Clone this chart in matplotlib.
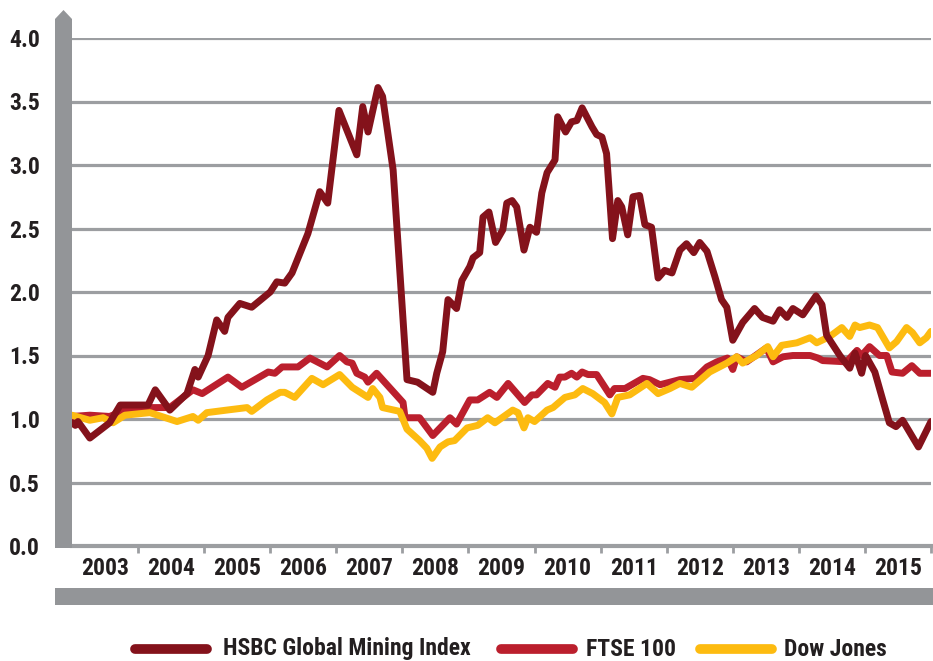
import matplotlib
matplotlib.use("Agg")
import matplotlib.pyplot as plt
from matplotlib import font_manager as fm
from matplotlib.patches import Polygon, Rectangle
from matplotlib.lines import Line2D
import numpy as np

# pick a condensed bold face if one is installed, else Roboto
names = {f.name for f in fm.fontManager.ttflist}
cond = [f for f in fm.fontManager.ttflist if f.stretch in ("condensed", "semi-condensed")]
stretch = "normal"
if "Liberation Sans Narrow" in names:
    fam, fsize = "Liberation Sans Narrow", 17
elif "Roboto Condensed" in names:
    fam, fsize = "Roboto Condensed", 17
elif any(f.name == "DejaVu Sans" for f in cond):
    fam, fsize, stretch = "DejaVu Sans", 15, "condensed"
else:
    fam, fsize = "Roboto", 14.5
plt.rcParams["font.family"] = [fam, "DejaVu Sans"]
plt.rcParams["font.weight"] = "bold"
plt.rcParams["font.stretch"] = stretch

# --- data (decimal year, index value) ---
hsbc_t = [2003.00, 2003.05, 2003.09, 2003.27, 2003.57, 2003.73, 2004.15, 2004.26, 2004.48, 2004.74,
          2004.86, 2004.91, 2005.06, 2005.19, 2005.31, 2005.36, 2005.54, 2005.72, 2006.00, 2006.10,
          2006.22, 2006.33, 2006.57, 2006.75, 2006.87, 2007.04, 2007.31, 2007.40, 2007.48, 2007.63,
          2007.70, 2007.86, 2008.07, 2008.23, 2008.46, 2008.52, 2008.61, 2008.69, 2008.82, 2008.90,
          2009.02, 2009.07, 2009.17, 2009.22, 2009.31, 2009.41, 2009.52, 2009.58, 2009.66, 2009.73,
          2009.84, 2009.93, 2010.03, 2010.11, 2010.19, 2010.31, 2010.35, 2010.47, 2010.56, 2010.64,
          2010.72, 2010.87, 2010.94, 2011.02, 2011.09, 2011.18, 2011.26, 2011.32, 2011.41, 2011.49,
          2011.59, 2011.67, 2011.77, 2011.87, 2011.97, 2012.08, 2012.20, 2012.30, 2012.41, 2012.50,
          2012.61, 2012.73, 2012.83, 2012.91, 2013.00, 2013.15, 2013.33, 2013.45, 2013.61, 2013.71,
          2013.82, 2013.91, 2014.06, 2014.26, 2014.35, 2014.42, 2014.62, 2014.77, 2014.85, 2014.95,
          2015.01, 2015.15, 2015.27, 2015.37, 2015.47, 2015.57, 2015.81, 2016.00]
hsbc_v = [0.97, 0.95, 0.98, 0.85, 0.97, 1.11, 1.11, 1.23, 1.07, 1.20,
          1.39, 1.33, 1.50, 1.78, 1.69, 1.80, 1.91, 1.88, 2.00, 2.08,
          2.07, 2.15, 2.46, 2.79, 2.70, 3.43, 3.08, 3.46, 3.26, 3.61,
          3.54, 2.96, 1.31, 1.29, 1.21, 1.36, 1.53, 1.94, 1.87, 2.09,
          2.20, 2.27, 2.31, 2.59, 2.63, 2.39, 2.49, 2.70, 2.72, 2.67,
          2.33, 2.51, 2.47, 2.78, 2.94, 3.04, 3.38, 3.26, 3.34, 3.35,
          3.45, 3.30, 3.24, 3.22, 3.09, 2.42, 2.72, 2.67, 2.45, 2.75,
          2.76, 2.53, 2.51, 2.11, 2.17, 2.15, 2.33, 2.38, 2.31, 2.39,
          2.32, 2.12, 1.94, 1.88, 1.62, 1.76, 1.87, 1.80, 1.77, 1.86,
          1.80, 1.87, 1.82, 1.97, 1.90, 1.66, 1.50, 1.40, 1.52, 1.36,
          1.50, 1.37, 1.15, 0.97, 0.94, 0.99, 0.78, 0.98]

ftse_t = [2003.00, 2003.27, 2003.57, 2003.76, 2004.18, 2004.48, 2004.83, 2004.97, 2005.36, 2005.57,
          2005.97, 2006.07, 2006.18, 2006.42, 2006.60, 2006.86, 2007.05, 2007.16, 2007.24, 2007.31,
          2007.43, 2007.48, 2007.61, 2008.01, 2008.04, 2008.26, 2008.46, 2008.72, 2008.82, 2009.02,
          2009.14, 2009.32, 2009.43, 2009.60, 2009.85, 2009.96, 2010.03, 2010.20, 2010.31, 2010.38,
          2010.46, 2010.56, 2010.64, 2010.72, 2010.81, 2010.94, 2011.14, 2011.21, 2011.37, 2011.64,
          2011.74, 2011.90, 2012.20, 2012.43, 2012.61, 2012.76, 2012.92, 2013.00, 2013.06, 2013.21,
          2013.51, 2013.61, 2013.76, 2013.91, 2014.17, 2014.29, 2014.36, 2014.72, 2014.88, 2014.95,
          2015.07, 2015.22, 2015.33, 2015.41, 2015.57, 2015.71, 2015.83, 2016.00]
ftse_v = [1.02, 1.03, 1.02, 1.06, 1.09, 1.09, 1.23, 1.20, 1.33, 1.25,
          1.37, 1.36, 1.41, 1.41, 1.48, 1.41, 1.50, 1.45, 1.44, 1.36,
          1.33, 1.29, 1.36, 1.13, 1.01, 1.01, 0.87, 1.01, 0.96, 1.15,
          1.15, 1.21, 1.17, 1.28, 1.13, 1.19, 1.19, 1.28, 1.25, 1.33,
          1.33, 1.36, 1.33, 1.37, 1.35, 1.35, 1.19, 1.24, 1.24, 1.32,
          1.31, 1.27, 1.31, 1.32, 1.41, 1.45, 1.48, 1.39, 1.49, 1.45,
          1.56, 1.45, 1.49, 1.50, 1.50, 1.48, 1.46, 1.45, 1.54, 1.50,
          1.57, 1.50, 1.50, 1.37, 1.36, 1.42, 1.36, 1.36]

dow_t = [2003.00, 2003.27, 2003.47, 2003.62, 2003.80, 2004.18, 2004.59, 2004.83, 2004.91, 2005.04,
         2005.34, 2005.65, 2005.72, 2005.95, 2006.15, 2006.22, 2006.37, 2006.63, 2006.80, 2007.05,
         2007.24, 2007.36, 2007.48, 2007.55, 2007.66, 2007.70, 2007.96, 2008.07, 2008.26, 2008.37,
         2008.45, 2008.57, 2008.69, 2008.79, 2008.98, 2009.14, 2009.29, 2009.40, 2009.67, 2009.75,
         2009.84, 2009.90, 2010.00, 2010.19, 2010.28, 2010.46, 2010.61, 2010.73, 2010.88, 2011.06,
         2011.17, 2011.26, 2011.44, 2011.70, 2011.87, 2012.05, 2012.20, 2012.38, 2012.65, 2012.91,
         2013.06, 2013.15, 2013.36, 2013.53, 2013.61, 2013.74, 2013.97, 2014.17, 2014.27, 2014.47,
         2014.65, 2014.77, 2014.85, 2014.92, 2015.07, 2015.19, 2015.37, 2015.48, 2015.63, 2015.72,
         2015.83, 2015.93, 2016.00]
dow_v = [1.03, 0.99, 1.01, 0.97, 1.03, 1.05, 0.98, 1.02, 0.99, 1.05,
         1.07, 1.09, 1.06, 1.15, 1.21, 1.21, 1.17, 1.32, 1.27, 1.35,
         1.25, 1.21, 1.17, 1.24, 1.17, 1.09, 1.06, 0.92, 0.83, 0.77,
         0.69, 0.78, 0.82, 0.83, 0.93, 0.95, 1.01, 0.97, 1.07, 1.05,
         0.93, 1.01, 0.98, 1.07, 1.09, 1.17, 1.19, 1.24, 1.20, 1.13,
         1.04, 1.17, 1.19, 1.28, 1.20, 1.24, 1.28, 1.25, 1.37, 1.44,
         1.49, 1.44, 1.50, 1.57, 1.49, 1.58, 1.60, 1.64, 1.60, 1.65,
         1.72, 1.65, 1.74, 1.72, 1.74, 1.72, 1.56, 1.61, 1.72, 1.68,
         1.60, 1.64, 1.69]

years = list(range(2003, 2016))
yticks = [0.0, 0.5, 1.0, 1.5, 2.0, 2.5, 3.0, 3.5, 4.0]

labels = ["HSBC Global Mining Index", "FTSE 100", "Dow Jones"]
colors = ["#84121b", "#bb1f2d", "#fdbb10"]
gray = "#939598"
grid_gray = "#9c9ea1"
txt = "#231f20"

W, H = 933, 661
fig = plt.figure(figsize=(W / 100, H / 100), dpi=100)


def fx(x):
    return x / W


def fy(y):
    return 1 - y / H


ax = fig.add_axes([fx(72), fy(546), fx(931) - fx(72), fy(38) - fy(546)])
ax.set_xlim(2003, 2016)
ax.set_ylim(0, 4.0)

ax.set_yticks(yticks)
ax.set_yticklabels([f"{v:.1f}" for v in yticks], fontsize=fsize, fontweight="bold", color=txt)
ax.tick_params(axis="y", length=0, pad=23)
for v in yticks[1:]:
    ax.axhline(v, color=grid_gray, lw=2.3, zorder=1)

ax.set_xticks(np.arange(2004, 2017), minor=False)
ax.set_xticklabels([])
ax.set_xticks([y + 0.5 for y in years], minor=True)
ax.set_xticklabels([str(y) for y in years], minor=True, fontsize=fsize, fontweight="bold", color=txt)
ax.tick_params(axis="x", which="major", length=5, width=2, color=grid_gray, direction="out")
ax.tick_params(axis="x", which="minor", length=0, pad=8)

for s in ["top", "right", "left"]:
    ax.spines[s].set_visible(False)
ax.spines["bottom"].set_color(grid_gray)
ax.spines["bottom"].set_linewidth(3)

ax.plot(ftse_t, ftse_v, color=colors[1], lw=5, solid_capstyle="round", solid_joinstyle="round", zorder=3)
ax.plot(dow_t, dow_v, color=colors[2], lw=5, solid_capstyle="round", solid_joinstyle="round", zorder=4)
ax.plot(hsbc_t, hsbc_v, color=colors[0], lw=5, solid_capstyle="round", solid_joinstyle="round", zorder=5)

# left axis bar with arrow
bar = Polygon([(fx(55), fy(548)), (fx(55), fy(19)), (fx(63.5), fy(10)),
               (fx(72), fy(19)), (fx(72), fy(548))],
              closed=True, transform=fig.transFigure, color=gray, lw=0)
fig.patches.append(bar)
# bottom bar
fig.patches.append(Rectangle((fx(55), fy(605)), fx(933) - fx(55), fy(588) - fy(605),
                             transform=fig.transFigure, color=gray, lw=0))

# legend
leg = [(135, 207, 223), (501, 573, 586), (700, 772, 784)]
for (x0, x1, xt), lab, c in zip(leg, labels, colors):
    fig.add_artist(Line2D([fx(x0), fx(x1)], [fy(649), fy(649)], transform=fig.transFigure,
                          color=c, lw=7, solid_capstyle="round"))
    fig.text(fx(xt), fy(649), lab, fontsize=fsize, fontweight="bold", color=txt,
             va="center", ha="left")

fig.savefig("out.png", dpi=100)
